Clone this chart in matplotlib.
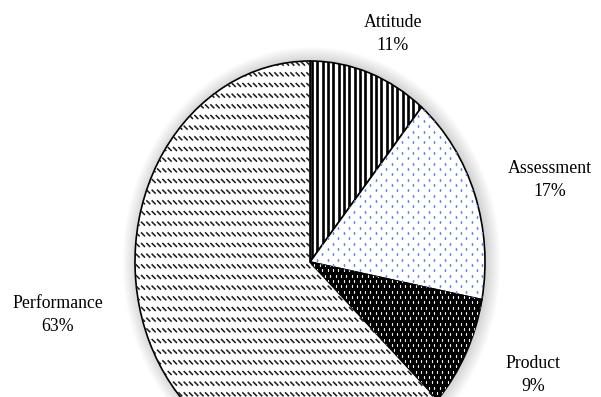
import matplotlib
matplotlib.use("Agg")
import matplotlib.pyplot as plt
import matplotlib.transforms as mtransforms
from matplotlib.collections import LineCollection
from matplotlib.patches import Ellipse
import numpy as np

# Share of items per category (percent)
categories = ["Attitude", "Assessment", "Product", "Performance"]
shares = [11, 17, 9, 63]

W, H, DPI = 601, 397, 100
plt.rcParams['font.family'] = ['Liberation Serif', 'DejaVu Serif']

fig = plt.figure(figsize=(W / DPI, H / DPI), dpi=DPI)
fig.patch.set_facecolor('white')

# pixel-unit transform (origin bottom-left)
px = mtransforms.Affine2D().scale(1 / DPI) + fig.dpi_scale_trans

# pie centre and radii in pixels (measured from top-left)
cx, cy = 310, 262
rx, ry = 175, 201
ax = fig.add_axes([(cx - rx) / W, (H - cy - ry) / H, 2 * rx / W, 2 * ry / H])
ax.set_axis_off()

face = ['white', 'white', 'black', 'white']
wedges, _ = ax.pie(shares, startangle=90, counterclock=False, colors=face,
                   wedgeprops=dict(edgecolor='black', linewidth=1.2))
ax.set_aspect('auto')
ax.set_xlim(-1, 1)
ax.set_ylim(-1, 1)
for w in wedges:
    w.set_clip_on(False)
    w.set_zorder(2)

# soft halo around the pie, slightly heavier towards the right
for t in range(1, 15):
    ax.add_patch(Ellipse((1.5 / rx, 0), 2 * (rx + t) / rx, 2 * (ry + t) / ry,
                         facecolor='black', alpha=0.013, edgecolor='none',
                         zorder=1, clip_on=False))

x0, x1 = cx - rx - 10, cx + rx + 10
y0, y1 = H - cy - ry - 10, H - cy + ry + 10
s = 4 / 3                      # pattern cell scale

# Attitude: dark vertical stripes
xs = np.arange(cx + 1.5 * s, x1, 4 * s)
stripes = LineCollection([[(x, y0), (x, y1)] for x in xs], colors='black',
                         linewidths=2 * s * 72 / DPI, transform=px, zorder=3)
stripes.set_clip_path(wedges[0])
ax.add_collection(stripes, autolim=False)

# Assessment: sparse blue dots
dx, dy = [], []
for i, y in enumerate(np.arange(y0, y1, 4 * s)):
    off = 0 if i % 2 == 0 else 4 * s
    for x in np.arange(x0 + off, x1, 8 * s):
        dx.append(x); dy.append(y)
ln, = ax.plot(dx, dy, ls='none', marker='s', ms=1.3, mew=0,
              color='#6a90e4', transform=px, zorder=3)
ln.set_clip_path(wedges[1])

# Product: white dots on black
dx, dy = [], []
for i, y in enumerate(np.arange(y0, y1, 4 * s)):
    off = 0 if i % 2 == 0 else 2 * s
    for x in np.arange(x0 + off, x1, 4 * s):
        dx.append(x); dy.append(y)
ln, = ax.plot(dx, dy, ls='none', marker='s', ms=0.9, mew=0,
              color='#e8e8e8', transform=px, zorder=3)
ln.set_clip_path(wedges[2])

# Performance: dashed downward diagonals
segs = []
for y in np.arange(y1, y0, -8 * s):
    for x in np.arange(x0, x1, 4 * s):
        segs.append([(x, y), (x + 3 * s, y - 3 * s)])
dash = LineCollection(segs, colors='#1e1e1e', linewidths=1.15,
                      transform=px, zorder=3)
dash.set_clip_path(wedges[3])
ax.add_collection(dash, autolim=False)

# category labels
label_pos = [(393, 34), (550, 180), (533, 375), (58, 315)]
for cat, val, (lx, ly) in zip(categories, shares, label_pos):
    fig.text(lx, H - ly, f"{cat}\n{val}%", transform=px, ha='center',
             va='center', multialignment='center', fontsize=12.8,
             linespacing=1.45, color='black')

fig.savefig('out.png', dpi=DPI, facecolor='white')
